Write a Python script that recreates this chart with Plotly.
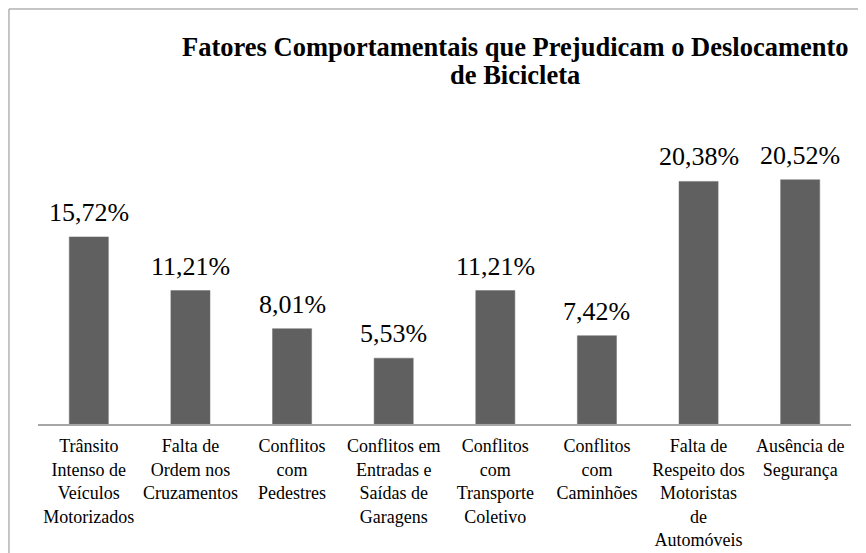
import plotly.graph_objects as go

categories = [
    "Trânsito<br>Intenso de<br>Veículos<br>Motorizados",
    "Falta de<br>Ordem nos<br>Cruzamentos",
    "Conflitos<br>com<br>Pedestres",
    "Conflitos em<br>Entradas e<br>Saídas de<br>Garagens",
    "Conflitos<br>com<br>Transporte<br>Coletivo",
    "Conflitos<br>com<br>Caminhões",
    "Falta de<br>Respeito dos<br>Motoristas<br>de<br>Automóveis",
    "Ausência de<br>Segurança",
]
values = [15.72, 11.21, 8.01, 5.53, 11.21, 7.42, 20.38, 20.52]
value_labels = ["15,72%", "11,21%", "8,01%", "5,53%", "11,21%", "7,42%", "20,38%", "20,52%"]
title_lines = ["Fatores Comportamentais que Prejudicam o Deslocamento", "de Bicicleta"]

SERIF = "Liberation Serif, Times New Roman, serif"

fig = go.Figure(go.Bar(
    x=categories, y=values,
    marker=dict(color="#606060", line=dict(color="#6e6e6e", width=0.5)),
    hoverinfo="skip",
))

annotations = []
for c, v, t in zip(categories, values, value_labels):
    annotations.append(dict(x=c, y=v, xref="x", yref="y", text=t, showarrow=False,
                            yanchor="bottom", yshift=8,
                            font=dict(family=SERIF, size=26, color="#000000")))

annotations.append(dict(x=0.587, y=1.282, xref="paper", yref="paper", text="<b>" + title_lines[0] + "</b>",
                        showarrow=False, yanchor="middle", xanchor="center",
                        font=dict(family=SERIF, size=26.5, color="#000000")))
annotations.append(dict(x=0.587, y=1.187, xref="paper", yref="paper", text="<b>" + title_lines[1] + "</b>",
                        showarrow=False, yanchor="middle", xanchor="center",
                        font=dict(family=SERIF, size=26.5, color="#000000")))

fig.update_layout(
    width=866, height=553,
    margin=dict(l=30, r=23, t=122, b=137, autoexpand=False),
    paper_bgcolor="white", plot_bgcolor="white",
    bargap=0.615,
    showlegend=False,
    font=dict(family=SERIF),
    annotations=annotations,
    shapes=[dict(type="rect", xref="paper", yref="paper",
                 x0=-0.0357, x1=1.05, y0=-0.6, y1=1.4116,
                 line=dict(color="#8c8c8c", width=1), fillcolor="rgba(0,0,0,0)", layer="below")],
    xaxis=dict(showline=True, linecolor="#a6a6a6", linewidth=1.5, ticks="", automargin=False,
               tickfont=dict(family=SERIF, size=18, color="#000000"), ticklabelstandoff=5,
               showgrid=False, fixedrange=True, tickangle=0),
    yaxis=dict(range=[0, 24.7], visible=False, showgrid=False, zeroline=False, fixedrange=True,
               automargin=False),
)

fig.write_html("out.html")
